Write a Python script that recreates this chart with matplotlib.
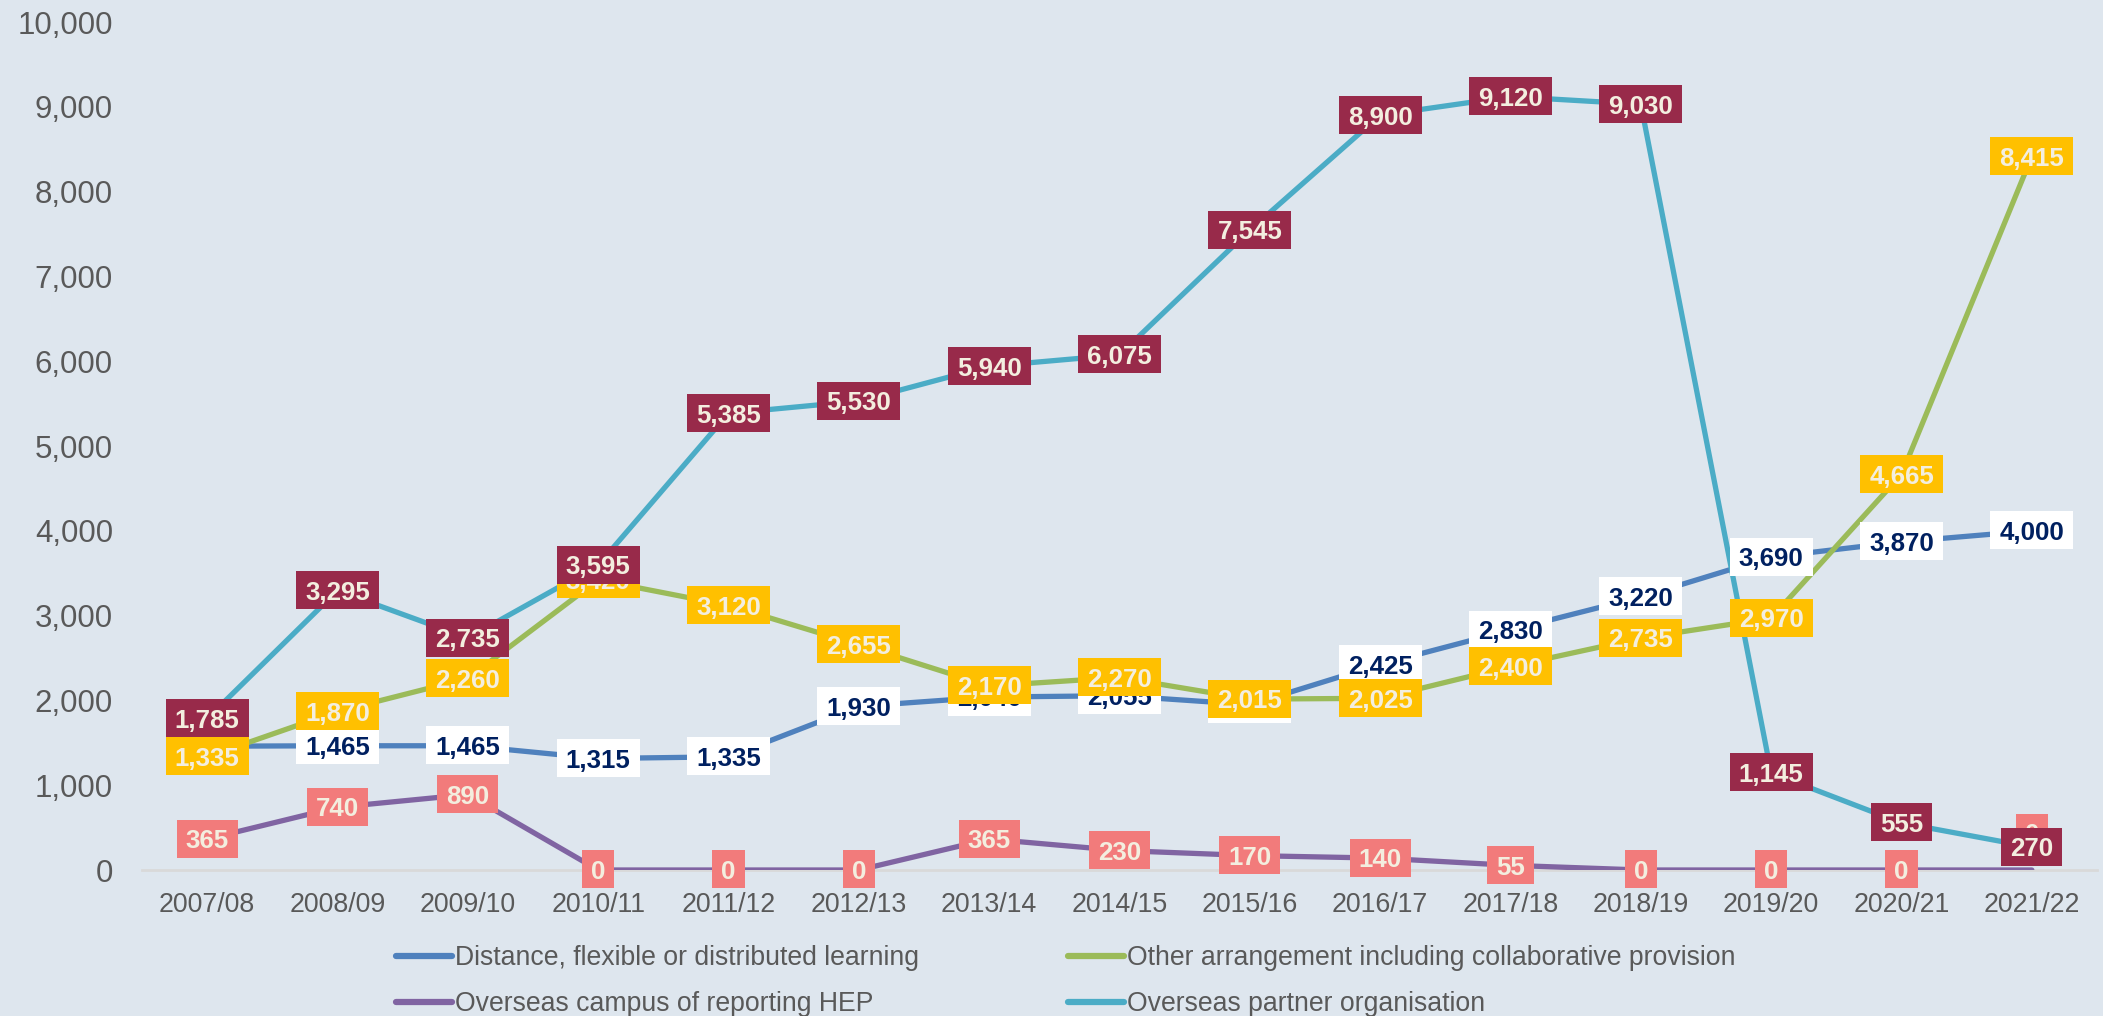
import matplotlib
matplotlib.use('Agg')
import matplotlib.pyplot as plt
from matplotlib.path import Path
from matplotlib.lines import Line2D
from matplotlib.ticker import FuncFormatter, MultipleLocator

years = ['2007/08', '2008/09', '2009/10', '2010/11', '2011/12', '2012/13', '2013/14',
         '2014/15', '2015/16', '2016/17', '2017/18', '2018/19', '2019/20', '2020/21', '2021/22']
distance = [1460, 1465, 1465, 1315, 1335, 1930, 2040, 2055, 1950, 2425, 2830, 3220, 3690, 3870, 4000]
other = [1335, 1870, 2260, 3420, 3120, 2655, 2170, 2270, 2015, 2025, 2400, 2735, 2970, 4665, 8415]
campus = [365, 740, 890, 0, 0, 0, 365, 230, 170, 140, 55, 0, 0, 0, 0]
partner = [1785, 3295, 2735, 3595, 5385, 5530, 5940, 6075, 7545, 8900, 9120, 9030, 1145, 555, 270]
series_names = ["Distance, flexible or distributed learning",
                "Other arrangement including collaborative provision",
                "Overseas campus of reporting HEP",
                "Overseas partner organisation"]

plt.rcParams['font.family'] = ['Liberation Sans', 'DejaVu Sans']

BG = '#DEE6EE'
W, H = 2103, 1016
fig = plt.figure(figsize=(W / 100, H / 100), dpi=100, facecolor=BG)
ax = fig.add_axes([142 / W, (H - 870) / H, (2097 - 142) / W, (870 - 22) / H])
ax.set_facecolor(BG)

styles = [
    dict(line='#4F81BD', box='#FFFFFF', txt='#002060', z=5),
    dict(line='#9BBB59', box='#FFC000', txt='#F3EEDF', z=6),
    dict(line='#8064A2', box='#F27B7B', txt='#F3EEDF', z=7),
    dict(line='#4BACC6', box='#982A4A', txt='#F3EEDF', z=8),
]
data = [distance, other, campus, partner]
xs = list(range(len(years)))

PADX = 9
BOXH = 38


def label_box(x0, y0, width, height, mutation_size):
    cy = y0 + height - 0.358 * mutation_size
    l, r = x0 - PADX, x0 + width + PADX
    b, t = cy - BOXH / 2, cy + BOXH / 2
    return Path([(l, b), (r, b), (r, t), (l, t), (l, b)], closed=True)


FS = 18.6
label_offsets = {(2, 14): 26.6}  # points, upward shift of overlapping label

for si, (vals, st) in enumerate(zip(data, styles)):
    ax.plot(xs, vals, color=st['line'], lw=3.8, zorder=3,
            solid_joinstyle='round', solid_capstyle='round')

for si, (vals, st) in enumerate(zip(data, styles)):
    for i, v in enumerate(vals):
        off = label_offsets.get((si, i), 0)
        ax.annotate(f"{v:,}", (i, v), xytext=(0, -0.358 * FS + off),
                    textcoords='offset points', ha='center', va='baseline',
                    fontsize=FS, fontweight='bold', color=st['txt'],
                    bbox=dict(boxstyle=label_box, fc=st['box'], ec='none'),
                    zorder=st['z'], annotation_clip=False)

ax.set_xlim(-0.5, len(years) - 0.5)
ax.set_ylim(0, 10000)
ax.set_xticks(xs)
ax.set_xticklabels(years)
ax.yaxis.set_major_locator(MultipleLocator(1000))
ax.yaxis.set_major_formatter(FuncFormatter(lambda v, _: f"{int(v):,}"))
ax.tick_params(axis='y', length=0, pad=20.9, labelsize=22.5, labelcolor='#595959')
ax.tick_params(axis='x', length=0, pad=15.5, labelsize=19.3, labelcolor='#595959')
for s in ['left', 'right', 'top']:
    ax.spines[s].set_visible(False)
ax.spines['bottom'].set_color('#D9D9D9')
ax.spines['bottom'].set_linewidth(2)
ax.spines['bottom'].set_zorder(2)


def mk(c):
    return Line2D([], [], color=c, lw=4.5, solid_capstyle='round')


leg_kw = dict(loc='upper left', frameon=False, fontsize=19.2, handlelength=2.1,
              handletextpad=0.12, labelspacing=0.75, borderpad=0, borderaxespad=0,
              labelcolor='#595959', bbox_transform=fig.transFigure)
fig.legend([mk(styles[0]['line']), mk(styles[2]['line'])],
           [series_names[0], series_names[2]],
           bbox_to_anchor=(396 / W, 1 - 945 / H), **leg_kw)
fig.legend([mk(styles[1]['line']), mk(styles[3]['line'])],
           [series_names[1], series_names[3]],
           bbox_to_anchor=(1068 / W, 1 - 945 / H), **leg_kw)

fig.savefig('out.png', dpi=100, facecolor=BG)
